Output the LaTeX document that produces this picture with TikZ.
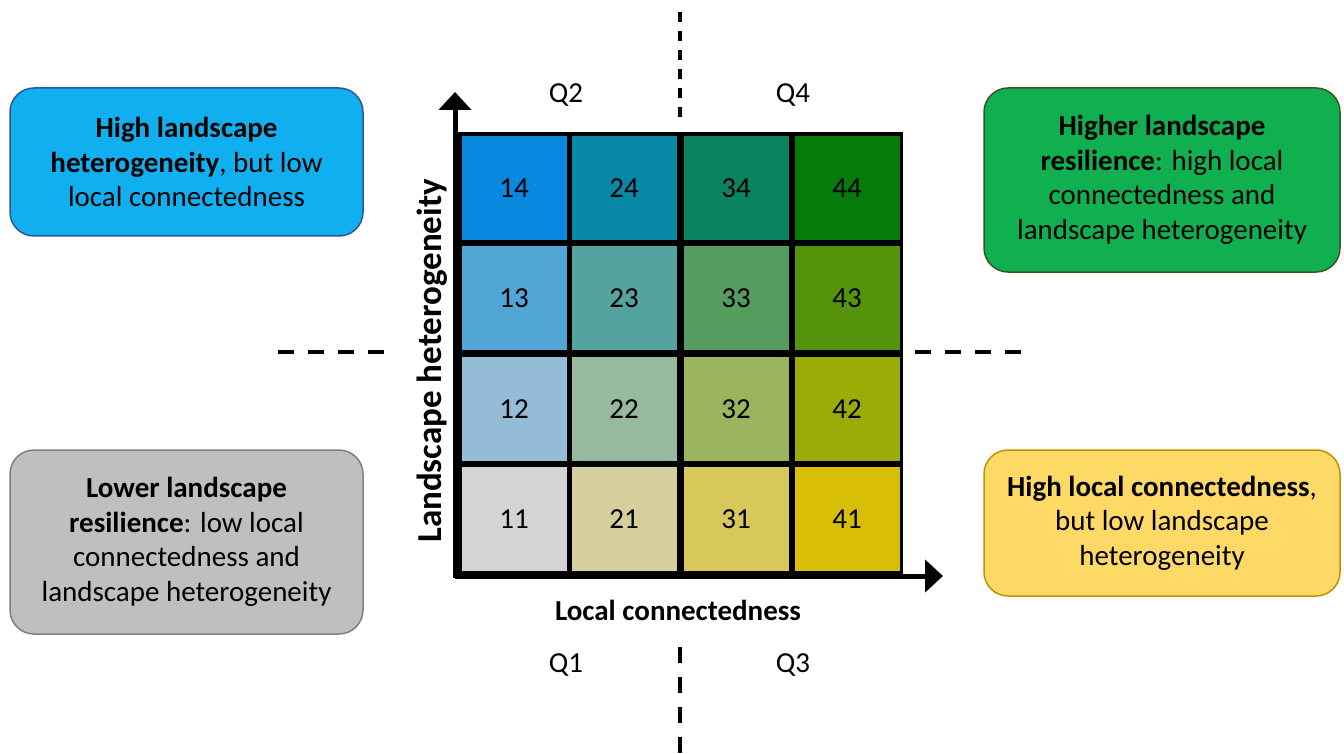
\documentclass[tikz,border=0pt]{standalone}
\usepackage{fontspec}
\setmainfont{Carlito}
\usetikzlibrary{arrows.meta}

\definecolor{c11}{HTML}{D4D4D4}
\definecolor{c21}{HTML}{D6CF9C}
\definecolor{c31}{HTML}{D8C75A}
\definecolor{c41}{HTML}{D9BE08}
\definecolor{c12}{HTML}{94BCD6}
\definecolor{c22}{HTML}{97B99D}
\definecolor{c32}{HTML}{9BB55E}
\definecolor{c42}{HTML}{9BAC08}
\definecolor{c13}{HTML}{52A6D6}
\definecolor{c23}{HTML}{55A39E}
\definecolor{c33}{HTML}{559D5E}
\definecolor{c43}{HTML}{54930A}
\definecolor{c14}{HTML}{0888DE}
\definecolor{c24}{HTML}{0888A4}
\definecolor{c34}{HTML}{0B8260}
\definecolor{c44}{HTML}{067A0A}

\begin{document}
\begin{tikzpicture}[x=1pt,y=-1pt,
    font=\fontsize{29}{34.5}\selectfont,
    cell/.style={minimum width=105pt,minimum height=104pt,inner sep=0pt},
    infobox/.style={rounded corners=24pt,line width=1.5pt,align=center,inner sep=0pt},
    vdivider/.style={line width=4.5pt,dash pattern=on 10pt off 9pt},
    hdivider/.style={line width=4.5pt,dash pattern=on 16pt off 14pt},
    axisline/.style={line width=5pt,-{Triangle[length=18pt,width=32pt]}}]
    \useasboundingbox (0,0) rectangle (1344,754);

    %grid
    \fill (453,132) rectangle (903,578);
    \foreach \i/\x in {1/514,2/624,3/736,4/847}
        \foreach \j/\y in {1/519,2/409,3/298,4/188}
            \node[cell,fill=c\i\j] (c\i\j) at (\x,\y) {\i\j};

    %axes
    \coordinate (origin) at (455,576);
    \coordinate (ytip) at (455,92);
    \coordinate (xtip) at (943,576);
    \draw[axisline] (origin) -- (ytip);
    \draw[axisline] (origin) -- (xtip);
    \node[font=\fontsize{29}{30}\selectfont\bfseries] (xlabel) at (678,610) {Local connectedness};
    \node[font=\fontsize{35}{36}\selectfont\bfseries,rotate=90] (ylabel) at (432,361) {Landscape heterogeneity};

    %quadrants
    \draw[vdivider] (680,12) -- (680,118);
    \draw[hdivider] (680,647) -- (680,754);
    \draw[hdivider] (278,352) -- (387,352);
    \draw[hdivider] (915,352) -- (1022,352);
    \node (q2) at (566,95) {Q2};
    \node (q4) at (793,95) {Q4};
    \node (q1) at (566,665) {Q1};
    \node (q3) at (793,665) {Q3};

    %boxes
    \node[infobox,fill={rgb,255:red,16;green,176;blue,240},draw={rgb,255:red,47;green,85;blue,151},
        minimum width=353pt,minimum height=148pt] (highhet) at (186.5,162)
        {\textbf{High landscape}\\\textbf{heterogeneity}, but low\\local connectedness};
    \node[infobox,fill={rgb,255:red,16;green,176;blue,80},draw={rgb,255:red,56;green,87;blue,35},
        minimum width=356pt,minimum height=184pt] (higher) at (1162,180)
        {\textbf{Higher landscape}\\\textbf{resilience}: high local\\connectedness and\\landscape heterogeneity};
    \node[infobox,fill={rgb,255:red,191;green,191;blue,191},draw={rgb,255:red,127;green,127;blue,127},
        minimum width=353pt,minimum height=184pt] (lower) at (186.5,542)
        {\textbf{Lower landscape}\\\textbf{resilience}: low local\\connectedness and\\landscape heterogeneity};
    \node[infobox,fill={rgb,255:red,255;green,217;blue,102},draw={rgb,255:red,191;green,144;blue,0},
        minimum width=356pt,minimum height=146pt] (highcon) at (1162,523)
        {\textbf{High local connectedness},\\but low landscape\\heterogeneity};
\end{tikzpicture}
\end{document}
